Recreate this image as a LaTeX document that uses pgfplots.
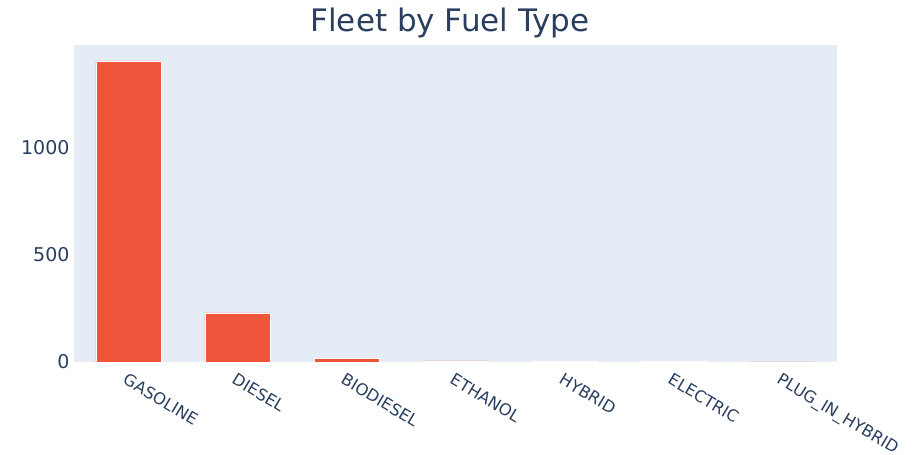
\documentclass[border=0pt]{standalone}
\usepackage{fontspec}
\setmainfont{DejaVu Sans}
\usepackage{pgfplots}
\pgfplotsset{compat=1.18}
\definecolor{plotbg}{HTML}{E5ECF6}
\definecolor{barred}{HTML}{EF553B}
\definecolor{txt}{HTML}{2A3F5F}
\begin{document}
\begin{tikzpicture}
\useasboundingbox (0,0) rectangle (913pt,455pt);
\begin{axis}[
  at={(74pt,93pt)}, anchor=south west,
  scale only axis, width=763pt, height=317pt,
  xmin=-0.5, xmax=6.5, ymin=0, ymax=1479,
  axis background/.style={fill=plotbg},
  axis line style={draw=none},
  tick style={draw=none},
  major tick length=0pt,
  xtick={0,1,2,3,4,5,6},
  xticklabels={GASOLINE,DIESEL,BIODIESEL,ETHANOL,HYBRID,ELECTRIC,PLUG\_IN\_HYBRID},
  x tick label style={font=\fontsize{16.3}{19}\selectfont, text=txt, rotate=-31, anchor=north west, xshift=5pt, yshift=-9pt, inner sep=0pt},
  ytick={0,500,1000},
  y tick label style={font=\fontsize{19}{22}\selectfont, text=txt, xshift=-1pt},
  /pgf/number format/assume math mode=true,
  /pgf/number format/1000 sep={},
  ybar, bar width=0.6,
]
\addplot[fill=barred, draw=white, line width=0.4pt] coordinates {
  (0,1405) (1,229) (2,16) (3,5) (4,4) (5,2) (6,1)
};
\end{axis}
\node[anchor=base, text=txt, font=\fontsize{31}{36}\selectfont] at (450pt,423pt) {Fleet by Fuel Type};
\end{tikzpicture}
\end{document}
